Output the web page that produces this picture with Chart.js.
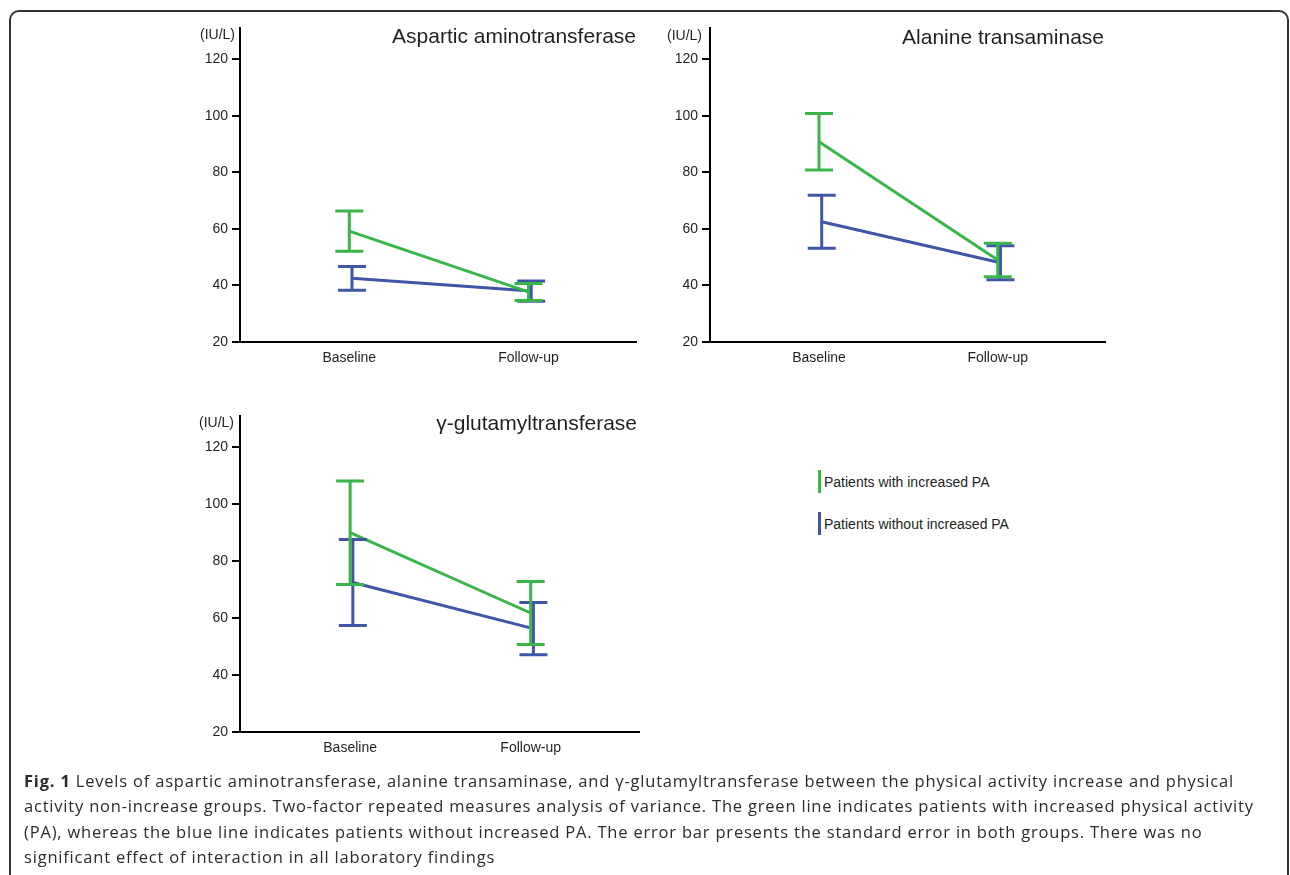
<!DOCTYPE html>
<html>
<head>
<meta charset="utf-8">
<script src="https://cdn.jsdelivr.net/npm/chart.js@4.4.1/dist/chart.umd.min.js"></script>
<style>
  html, body { margin: 0; padding: 0; background: #fff; }
  body { width: 1290px; height: 875px; position: relative; overflow: hidden; font-family: "Liberation Sans", Arial, sans-serif; color: #231f20; }
  .frame { position: absolute; left: 9px; top: 10px; width: 1280px; height: 900px; border: 2px solid #333; border-radius: 10px; box-sizing: border-box; }
  canvas { position: absolute; }
  .title { position: absolute; font-size: 21px; line-height: 21px; text-align: right; white-space: nowrap; }
  .unit { position: absolute; font-size: 14px; line-height: 14px; text-align: right; white-space: nowrap; }
  .legend { position: absolute; left: 818px; top: 470px; }
  .legend .item { position: absolute; left: 0; height: 23px; width: 300px; }
  .legend .swatch { position: absolute; left: 0; top: 0; width: 3px; height: 23px; }
  .legend .label { position: absolute; left: 6px; top: 5px; font-size: 14px; line-height: 14px; white-space: nowrap; }
  .caption { position: absolute; left: 24px; top: 768px; font-family: "Open Sans", sans-serif; font-size: 16.5px; letter-spacing: 0.8px; line-height: 25.3px; color: #2b2b2b; white-space: nowrap; }
</style>
</head>
<body>
<div class="frame"></div>

<canvas id="chartAST" width="470" height="370" style="left:180px; top:10px;"></canvas>
<canvas id="chartALT" width="470" height="370" style="left:650px; top:10px;"></canvas>
<canvas id="chartGGT" width="470" height="372" style="left:180px; top:398px;"></canvas>

<div class="title" style="left:336px; top:25px; width:300px;">Aspartic aminotransferase</div>
<div class="title" style="left:804px; top:26px; width:300px;">Alanine transaminase</div>
<div class="title" style="left:337px; top:412px; width:300px;">γ-glutamyltransferase</div>

<div class="unit" style="left:175px; top:27px; width:60px;">(IU/L)</div>
<div class="unit" style="left:642px; top:28px; width:60px;">(IU/L)</div>
<div class="unit" style="left:174px; top:415px; width:60px;">(IU/L)</div>

<div class="legend" id="legend"></div>

<div class="caption"><b>Fig. 1</b> Levels of aspartic aminotransferase, alanine transaminase, and γ-glutamyltransferase between the physical activity increase and physical<br>activity non-increase groups. Two-factor repeated measures analysis of variance. The green line indicates patients with increased physical activity<br>(PA), whereas the blue line indicates patients without increased PA. The error bar presents the standard error in both groups. There was no<br>significant effect of interaction in all laboratory findings</div>

<script>
// ─── data ───
const categories = ["Baseline", "Follow-up"];
const yTicks = [20, 40, 60, 80, 100, 120];
const seriesNames = ["Patients with increased PA", "Patients without increased PA"];
const seriesColors = ["#3ab54a", "#3f55a6"];

// aspartic aminotransferase
const astIncreased = [59.2, 37.7];
const astIncreasedSE = [7.1, 3.0];
const astNotIncreased = [42.5, 38.0];
const astNotIncreasedSE = [4.2, 3.6];

// alanine transaminase
const altIncreased = [90.8, 49.0];
const altIncreasedSE = [10.0, 5.9];
const altNotIncreased = [62.5, 48.0];
const altNotIncreasedSE = [9.4, 6.0];

// γ-glutamyltransferase
const ggtIncreased = [90.0, 61.8];
const ggtIncreasedSE = [18.2, 11.1];
const ggtNotIncreased = [72.5, 56.3];
const ggtNotIncreasedSE = [15.1, 9.2];

const textColor = "#231f20";
const fontFamily = "'Liberation Sans', Arial, sans-serif";

// ─── error bar plugin ───
const errorBars = {
  id: "errorBars",
  afterDatasetsDraw(chart) {
    const ctx = chart.ctx;
    const y = chart.scales.y;
    // draw the last dataset first so the first one ends on top
    for (let d = chart.data.datasets.length - 1; d >= 0; d--) {
      const ds = chart.data.datasets[d];
      const meta = chart.getDatasetMeta(d);
      ctx.save();
      ctx.strokeStyle = ds.borderColor;
      ctx.lineWidth = 3;
      meta.data.forEach((pt, i) => {
        const v = ds.data[i].y;
        const top = y.getPixelForValue(v + ds.errors[i]);
        const bot = y.getPixelForValue(v - ds.errors[i]);
        const half = 14;
        ctx.beginPath();
        ctx.moveTo(pt.x, top); ctx.lineTo(pt.x, bot);
        ctx.moveTo(pt.x - half, top); ctx.lineTo(pt.x + half, top);
        ctx.moveTo(pt.x - half, bot); ctx.lineTo(pt.x + half, bot);
        ctx.stroke();
      });
      ctx.restore();
    }
  }
};

function series(means, errs, idx, shift) {
  return {
    label: seriesNames[idx],
    data: means.map((v, i) => ({ x: i + shift, y: v })),
    errors: errs,
    borderColor: seriesColors[idx],
    backgroundColor: seriesColors[idx],
    borderWidth: 3,
    pointRadius: 0,
    tension: 0
  };
}

function makeChart(id, inc, incSE, notInc, notIncSE, padRight) {
  return new Chart(document.getElementById(id), {
    type: "line",
    data: {
      datasets: [
        series(inc, incSE, 0, 0),
        series(notInc, notIncSE, 1, 0.015)
      ]
    },
    options: {
      responsive: false,
      animation: false,
      devicePixelRatio: 1,
      layout: { padding: { top: 18, right: padRight, left: 0, bottom: 0 } },
      plugins: { legend: { display: false }, tooltip: { enabled: false } },
      scales: {
        x: {
          type: "linear",
          min: -0.61,
          max: 1.6,
          afterBuildTicks: s => { s.ticks = categories.map((c, i) => ({ value: i })); },
          afterFit: s => { s.height = 38; },
          ticks: {
            callback: (v, i) => categories[i],
            font: { family: fontFamily, size: 14 },
            color: textColor,
            padding: 8,
            maxRotation: 0,
            autoSkip: false
          },
          grid: { display: false, drawTicks: false },
          border: { display: true, color: "#000", width: 2 }
        },
        y: {
          type: "linear",
          min: 20,
          max: 131,
          afterBuildTicks: s => { s.ticks = yTicks.map(v => ({ value: v })); },
          afterFit: s => { s.width = 60; },
          ticks: {
            font: { family: fontFamily, size: 14 },
            color: textColor,
            padding: 4
          },
          grid: { drawOnChartArea: false, drawTicks: true, tickLength: 8, color: "#000", lineWidth: 2 },
          border: { display: true, color: "#000", width: 2 }
        }
      }
    },
    plugins: [errorBars]
  });
}

makeChart("chartAST", astIncreased, astIncreasedSE, astNotIncreased, astNotIncreasedSE, 14);
makeChart("chartALT", altIncreased, altIncreasedSE, altNotIncreased, altNotIncreasedSE, 15);
makeChart("chartGGT", ggtIncreased, ggtIncreasedSE, ggtNotIncreased, ggtNotIncreasedSE, 11);

// legend
const legend = document.getElementById("legend");
seriesNames.forEach((name, i) => {
  const item = document.createElement("div");
  item.className = "item";
  item.style.top = (i * 42) + "px";
  item.innerHTML = `<div class="swatch" style="background:${seriesColors[i]}"></div><div class="label">${name}</div>`;
  legend.appendChild(item);
});
</script>
</body>
</html>
